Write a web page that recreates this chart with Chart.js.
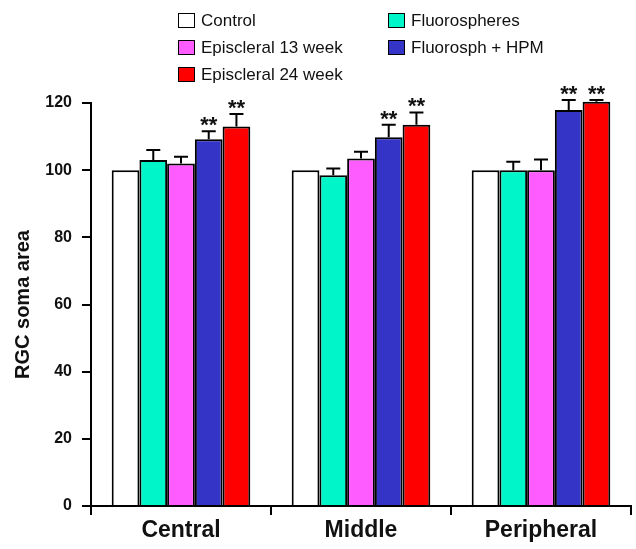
<!DOCTYPE html>
<html>
<head>
<meta charset="utf-8">
<script src="https://cdn.jsdelivr.net/npm/chart.js@4.4.1/dist/chart.umd.min.js"></script>
<style>
  html, body { margin: 0; padding: 0; background: #fff; }
  #wrap { position: relative; width: 636px; height: 549px; }
  #chart { position: absolute; left: 0; top: 0; }
  #legend {
    position: absolute; left: 178px; top: 7px;
    display: grid; grid-template-columns: 210px auto;
    grid-template-rows: repeat(3, 27px); grid-auto-flow: column;
    font-family: "Liberation Sans", Arial, sans-serif; font-size: 17px; color: #111;
  }
  .li { display: flex; align-items: center; white-space: nowrap; }
  .sw { width: 15px; height: 13px; border: 1.5px solid #000; margin-right: 6px; flex: none; }
</style>
</head>
<body>
<div id="wrap">
  <canvas id="chart" width="636" height="549"></canvas>
  <div id="legend"></div>
</div>
<script>
// ---- data ----
const categories = ['Central', 'Middle', 'Peripheral'];
const seriesNames = ['Control', 'Fluorospheres', 'Episcleral 13 week', 'Fluorosph + HPM', 'Episcleral 24 week'];
const control       = [100, 100, 100];
const fluorospheres = [103, 98.5, 100];
const episcleral13  = [102, 103.5, 100];
const fluoroHPM     = [109.2, 109.8, 117.9];
const episcleral24  = [113, 113.5, 120.4];
const errControl    = [0, 0, 0];
const errFluoro     = [3, 2, 2.5];
const errEpi13      = [2, 2, 3.2];
const errHPM        = [2.4, 3.7, 3];
const errEpi24      = [3.7, 3.7, 0.5];
const sigControl    = ['', '', ''];
const sigFluoro     = ['', '', ''];
const sigEpi13      = ['', '', ''];
const sigHPM        = ['**', '**', '**'];
const sigEpi24      = ['**', '**', '**'];
const yTicks = [0, 20, 40, 60, 80, 100, 120];
const legendOrder = [0, 2, 4, 1, 3];

const colors = ['#ffffff', '#00f5c8', '#ff5cff', '#3434c6', '#ff0000'];
const values = [control, fluorospheres, episcleral13, fluoroHPM, episcleral24];
const errs = [errControl, errFluoro, errEpi13, errHPM, errEpi24];
const sigs = [sigControl, sigFluoro, sigEpi13, sigHPM, sigEpi24];

const FONT = '"Liberation Sans", Arial, sans-serif';

const datasets = seriesNames.map((name, i) => ({
  label: name,
  data: values[i],
  errors: errs[i],
  sig: sigs[i],
  backgroundColor: colors[i],
  borderColor: '#000',
  borderWidth: 2,
  clip: false,
  categoryPercentage: 0.77,
  barPercentage: 1.0
}));

const errorBarPlugin = {
  id: 'errorBars',
  afterDatasetsDraw(chart) {
    const ctx = chart.ctx;
    const yScale = chart.scales.y;
    ctx.save();
    chart.data.datasets.forEach((ds, di) => {
      const meta = chart.getDatasetMeta(di);
      meta.data.forEach((bar, i) => {
        const v = ds.data[i];
        const e = ds.errors[i];
        const yTop = yScale.getPixelForValue(v);
        const yCap = yScale.getPixelForValue(v + e);
        if (e > 0) {
          ctx.strokeStyle = '#000';
          ctx.lineWidth = 2;
          ctx.beginPath();
          ctx.moveTo(bar.x, yTop);
          ctx.lineTo(bar.x, yCap);
          ctx.moveTo(bar.x - 7, yCap);
          ctx.lineTo(bar.x + 7, yCap);
          ctx.stroke();
        }
        if (ds.sig[i]) {
          ctx.fillStyle = '#111';
          ctx.font = 'bold 22px ' + FONT;
          ctx.textAlign = 'center';
          ctx.textBaseline = 'alphabetic';
          ctx.fillText(ds.sig[i], bar.x, yCap + 1);
        }
      });
    });
    ctx.restore();
  }
};

const chart = new Chart(document.getElementById('chart'), {
  type: 'bar',
  data: { labels: categories, datasets },
  options: {
    responsive: false,
    animation: false,
    layout: { padding: { top: 103, right: 5, left: 0, bottom: 0 } },
    plugins: { legend: { display: false }, tooltip: { enabled: false } },
    scales: {
      x: {
        grid: { display: true, drawOnChartArea: false, drawTicks: true, tickLength: 9, color: '#000', lineWidth: 2, offset: true },
        border: { display: true, color: '#000', width: 2 },
        ticks: { color: '#111', font: { family: FONT, size: 23, weight: 'bold' }, padding: 2 },
        afterFit(s) { s.height = 43; }
      },
      y: {
        min: 0, max: 120,
        afterBuildTicks(s) { s.ticks = yTicks.map(v => ({ value: v })); },
        grid: { display: true, drawOnChartArea: false, drawTicks: true, tickLength: 9, color: '#000', lineWidth: 2 },
        border: { display: true, color: '#000', width: 2 },
        ticks: { color: '#111', font: { family: FONT, size: 16, weight: 'bold' }, padding: 10 },
        title: { display: true, text: 'RGC soma area', color: '#111', font: { family: FONT, size: 20, weight: 'bold' }, padding: { top: 11, bottom: 0 } },
        afterFit(s) { s.width = 91; }
      }
    }
  },
  plugins: [errorBarPlugin]
});

// HTML legend built from the chart's datasets
const legendEl = document.getElementById('legend');
legendOrder.forEach(i => {
  const ds = chart.data.datasets[i];
  const item = document.createElement('div');
  item.className = 'li';
  const sw = document.createElement('span');
  sw.className = 'sw';
  sw.style.background = ds.backgroundColor;
  const tx = document.createElement('span');
  tx.textContent = ds.label;
  item.appendChild(sw);
  item.appendChild(tx);
  legendEl.appendChild(item);
});
</script>
</body>
</html>
